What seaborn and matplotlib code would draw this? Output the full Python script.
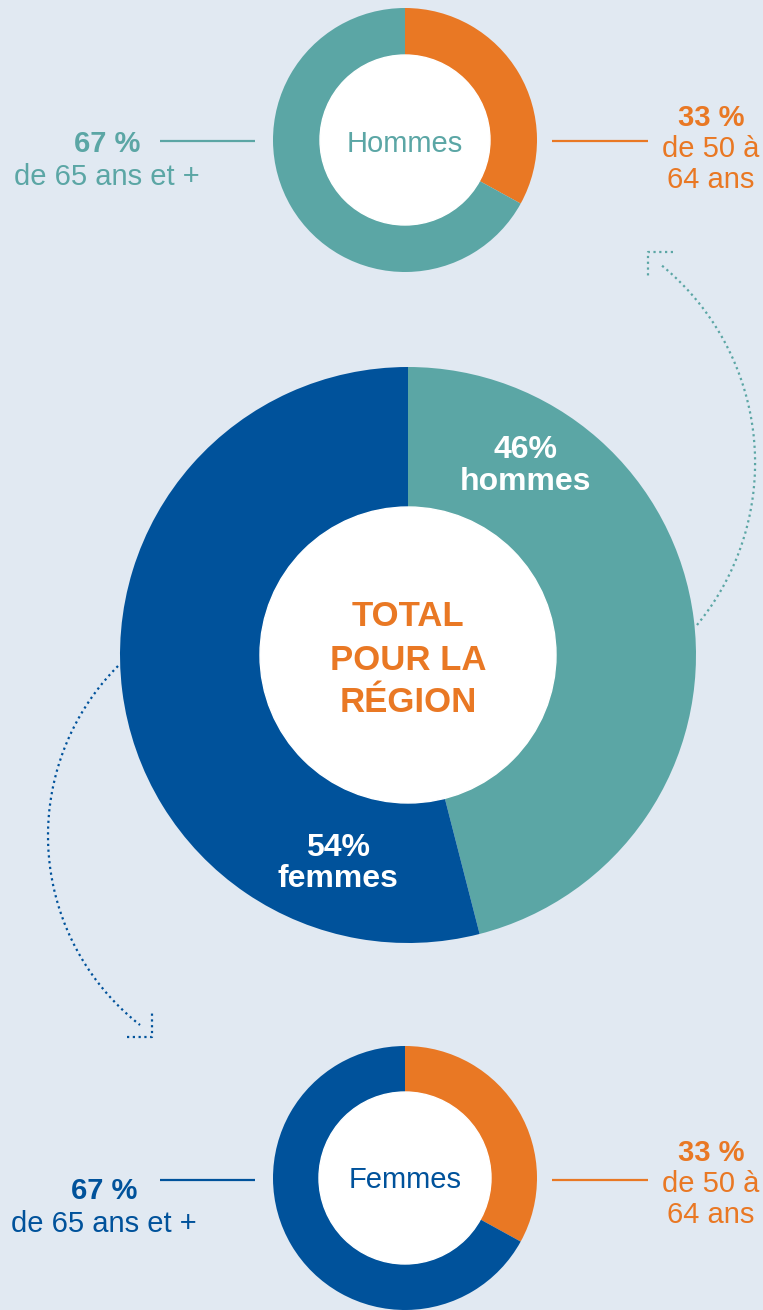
import numpy as np
import seaborn as sns
import matplotlib.pyplot as plt
from matplotlib.patches import Circle

# Données
total_labels = ['hommes', 'femmes']
total_values = [46, 54]
age_labels = ['de 50 à\n64 ans', 'de 65 ans et +']
hommes_values = [33, 67]
femmes_values = [33, 67]

# Couleurs
bg = '#E1E9F2'
teal = '#5BA6A5'
orange = '#E97824'
blue = '#00529B'

sns.set_theme(style='white')
plt.rcParams['font.family'] = ['Liberation Sans', 'DejaVu Sans']

W, H = 763, 1310
fig = plt.figure(figsize=(W / 100, H / 100), dpi=100, facecolor=bg)
ax = fig.add_axes([0, 0, 1, 1])
ax.set_facecolor(bg)

OFF = 3  # petit décalage vertical du texte


def Y(y):
    # coordonnées en pixels depuis le haut
    return H - y


def TY(y):
    return H - y - OFF


def donut(values, colors, cx, cy, r_out, r_in):
    ax.pie(values, colors=colors, startangle=90, counterclock=False,
           center=(cx, Y(cy)), radius=r_out,
           wedgeprops=dict(linewidth=0, antialiased=True))
    ax.add_patch(Circle((cx, Y(cy)), r_in, color='white', zorder=3))


# Anneaux
donut(hommes_values, [orange, teal], 405, 140, 132, 85)
donut(total_values, [teal, blue], 408, 655, 288, 148)
donut(femmes_values, [orange, blue], 405, 1178, 132, 86)

ax.set_xlim(0, W)
ax.set_ylim(0, H)
ax.set_aspect('auto')
ax.axis('off')
ax.add_patch(plt.Rectangle((0, 0), W, H, color=bg, zorder=-10))

fs = 21
# Textes centraux
ax.text(405, TY(141), 'Hommes', color=teal, fontsize=fs, ha='center', va='center', zorder=4)
ax.text(405, TY(1177), 'Femmes', color=blue, fontsize=fs, ha='center', va='center', zorder=4)
for i, t in enumerate(['TOTAL', 'POUR LA', 'RÉGION']):
    ax.text(408, TY(614 + 43 * i), t, color=orange, fontsize=25, fontweight='bold',
            ha='center', va='center', zorder=4)

ax.text(525, TY(447), f'{total_values[0]}%', color='white', fontsize=23, fontweight='bold',
        ha='center', va='center', zorder=4)
ax.text(525, TY(479), total_labels[0], color='white', fontsize=23, fontweight='bold',
        ha='center', va='center', zorder=4)
ax.text(338, TY(845), f'{total_values[1]}%', color='white', fontsize=23, fontweight='bold',
        ha='center', va='center', zorder=4)
ax.text(338, TY(876), total_labels[1], color='white', fontsize=23, fontweight='bold',
        ha='center', va='center', zorder=4)


def side_labels(values, color_old, cy, ly, lx_center, rx_center, ry):
    # gauche : 65 ans et +
    ax.plot([160, 255], [Y(cy), Y(cy)], color=color_old, lw=1.6, solid_capstyle='butt')
    ax.text(lx_center, TY(ly), f'{values[1]} %', color=color_old, fontsize=fs,
            fontweight='bold', ha='center', va='center')
    ax.text(lx_center, TY(ly + 33), age_labels[1], color=color_old, fontsize=fs,
            ha='center', va='center')
    # droite : 50 à 64 ans
    ax.plot([552, 648], [Y(cy), Y(cy)], color=orange, lw=1.6, solid_capstyle='butt')
    ax.text(rx_center, TY(ry), f'{values[0]} %', color=orange, fontsize=fs,
            fontweight='bold', ha='center', va='center')
    for k, t in enumerate(age_labels[0].split('\n')):
        ax.text(rx_center, TY(ry + 31 * (k + 1)), t, color=orange, fontsize=fs,
                ha='center', va='center')


side_labels(hommes_values, teal, 141, 141, 107, 711, 115)
side_labels(femmes_values, blue, 1180, 1188, 104, 711, 1150)

dots = dict(lw=1.6, linestyle=(0, (1, 1.6)))


def dotted_arc(p1, p2, p3, color, n=200):
    # arc de cercle passant par trois points
    (x1, y1), (x2, y2), (x3, y3) = [(x, Y(y)) for x, y in (p1, p2, p3)]
    d = 2 * (x1 * (y2 - y3) + x2 * (y3 - y1) + x3 * (y1 - y2))
    ux = ((x1**2 + y1**2) * (y2 - y3) + (x2**2 + y2**2) * (y3 - y1) + (x3**2 + y3**2) * (y1 - y2)) / d
    uy = ((x1**2 + y1**2) * (x3 - x2) + (x2**2 + y2**2) * (x1 - x3) + (x3**2 + y3**2) * (x2 - x1)) / d
    r = np.hypot(x1 - ux, y1 - uy)
    a1 = np.arctan2(y1 - uy, x1 - ux)
    a2 = np.arctan2(y2 - uy, x2 - ux)
    a3 = np.arctan2(y3 - uy, x3 - ux)
    a3u = np.unwrap([a1, a2, a3])
    t = np.linspace(a3u[0], a3u[2], n)
    ax.plot(ux + r * np.cos(t), uy + r * np.sin(t), color=color, **dots)


# Flèches pointillées
dotted_arc((697, 625), (755, 470), (660, 264), teal)
ax.plot([673, 648, 648], [Y(252), Y(252), Y(278)], color=teal, **dots)
dotted_arc((118, 666), (48, 833), (140, 1025), blue)
ax.plot([127, 152, 152], [Y(1037), Y(1037), Y(1011)], color=blue, **dots)

fig.savefig('out.png', dpi=100, facecolor=bg)
